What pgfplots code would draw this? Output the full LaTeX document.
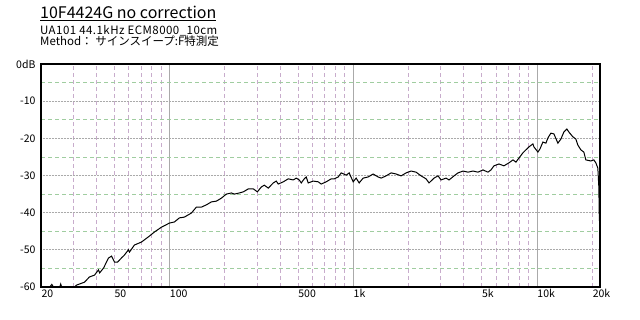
\documentclass[border=0pt]{standalone}
\usepackage{fontspec}
\setmainfont{Noto Sans CJK JP}
\usepackage{pgfplots}
\pgfplotsset{compat=1.18}
\definecolor{gridpink}{RGB}{200,172,204}
\definecolor{gridgreen}{RGB}{160,205,160}
\definecolor{gridmajor}{RGB}{170,170,170}
\begin{document}
\begin{tikzpicture}[x=1pt,y=1pt]
\path[use as bounding box] (0,0) rectangle (640,320);
\node[anchor=base west, inner sep=0] at (40,301) {\fontsize{16}{16}\selectfont\underline{10F4424G no correction}};
\node[anchor=base west, inner sep=0] at (40,285.5) {\fontsize{11.5}{11.5}\selectfont\addfontfeature{LetterSpace=4}UA101 44.1kHz ECM8000\_10cm};
\node[anchor=base west, inner sep=0] at (40,274) {\fontsize{11.5}{11.5}\selectfont Method： サインスイープ:F特測定};
\begin{axis}[
  at={(41pt,33pt)}, anchor=south west, scale only axis,
  width=559pt, height=223pt,
  xmode=log, xmin=20, xmax=22050, ymin=-60, ymax=0,
  axis line style={black, line width=2pt},
  major tick length=0pt, minor tick length=0pt,
  xtick={100,1000,10000}, xticklabels={100,1k,10k},
  extra x ticks={20,50,500,5000,20000},
  extra x tick labels={20,50,500,5k,20k},
  extra x tick style={grid=none},
  minor xtick={30,40,50,60,70,80,90,200,300,400,500,600,700,800,900,2000,3000,4000,5000,6000,7000,8000,9000,20000},
  ytick={-60,-50,-40,-30,-20,-10,0},
  yticklabels={-60,-50,-40,-30,-20,-10,0dB},
  minor ytick={-55,-45,-35,-25,-15,-5},
  xmajorgrids, xminorgrids, ymajorgrids, yminorgrids,
  major x grid style={gridmajor, line width=0.7pt},
  minor x grid style={gridpink, line width=0.7pt, dash pattern=on 4pt off 3pt},
  major y grid style={gridmajor, line width=0.7pt, dash pattern=on 1pt off 0.5pt},
  minor y grid style={gridgreen, line width=0.7pt, dash pattern=on 4pt off 3pt},
  ticklabel style={font=\fontsize{10.5}{10.5}\selectfont},
  xticklabel style={anchor=north west, xshift=-3pt, yshift=1pt},
  yticklabel style={anchor=east, xshift=-2pt},
]
\addplot[black, line width=1pt] coordinates {
(20,-60)(22.3,-60)(22.9,-59.3)(23.4,-60)(25.3,-60)(25.6,-59.2)(25.9,-60)(30.5,-60)
(31.2,-59.5)(34.5,-58.7)(36.7,-57.3)(39.1,-56.8)(41.1,-55.4)(41.7,-56.2)(43.8,-54.9)
(46.6,-52.2)(48.4,-51.7)(50.3,-53.3)(52.2,-53.3)(54.8,-52.2)(56.9,-51.4)(59.8,-50.0)
(60.6,-50.6)(64.5,-48.7)(70.5,-47.9)(76.9,-46.5)(82.9,-45.2)(90.5,-43.9)(100,-42.8)
(106.5,-42.5)(113.3,-41.4)(120.6,-41.2)(131.7,-40.1)(140.2,-38.5)(149.3,-38.5)
(158.9,-37.9)(169.2,-37.1)(180.1,-36.9)(191.7,-36.1)(204.1,-35.0)(217.3,-34.7)
(225.6,-35.0)(240.1,-34.7)(252.5,-34.4)(268.8,-33.6)(286.2,-33.6)(300.9,-34.4)
(316.2,-33.1)(328.3,-32.6)(345.1,-33.4)(367.4,-32.0)(381.5,-31.5)(391.2,-32.3)
(416.5,-31.7)(443.4,-30.9)(472.0,-31.2)(490.1,-30.7)(508.8,-31.2)(521.7,-32.0)
(541.7,-30.9)(555.4,-30.4)(569.5,-32.0)(606.3,-31.5)(645.4,-31.7)(670.1,-32.3)
(713.5,-31.7)(759.5,-30.9)(788.6,-30.9)(828.9,-30.4)(860.6,-29.3)(916.2,-29.9)
(951.2,-29.3)(1000,-31.7)(1038,-30.7)(1078,-32.0)(1133,-30.7)(1206,-30.4)
(1284,-29.6)(1367,-30.4)(1420,-30.7)(1511,-30.1)(1609,-29.3)(1713,-29.6)
(1824,-30.1)(1941,-29.3)(2067,-28.8)(2200,-29.1)(2342,-30.1)(2493,-30.9)
(2588,-32.0)(2755,-30.7)(2897,-30.1)(3008,-31.2)(3202,-30.7)(3325,-31.2)
(3540,-30.1)(3722,-29.3)(3962,-28.8)(4217,-29.1)(4489,-28.8)(4779,-29.1)
(5087,-28.5)(5415,-29.1)(5623,-28.5)(5838,-27.4)(6215,-26.9)(6616,-27.4)
(7042,-26.6)(7407,-25.8)(7690,-26.4)(7984,-25.3)(8394,-23.9)(8715,-23.1)
(9048,-22.3)(9513,-21.5)(9632,-22.3)(10126,-23.7)(10382,-22.9)(10779,-21.0)
(11192,-21.3)(11477,-19.9)(11915,-18.6)(12371,-18.8)(13006,-21.3)(13503,-20.2)
(14020,-18.3)(14555,-17.5)(14926,-18.3)(15694,-19.6)(16292,-20.2)(16706,-21.8)
(17344,-23.1)(18008,-23.7)(18466,-25.8)(19658,-26.1)(20408,-25.8)(20930,-26.6)
(21456,-28.0)(21727,-33.1)(21870,-42.2)
};
\end{axis}
\end{tikzpicture}
\end{document}
